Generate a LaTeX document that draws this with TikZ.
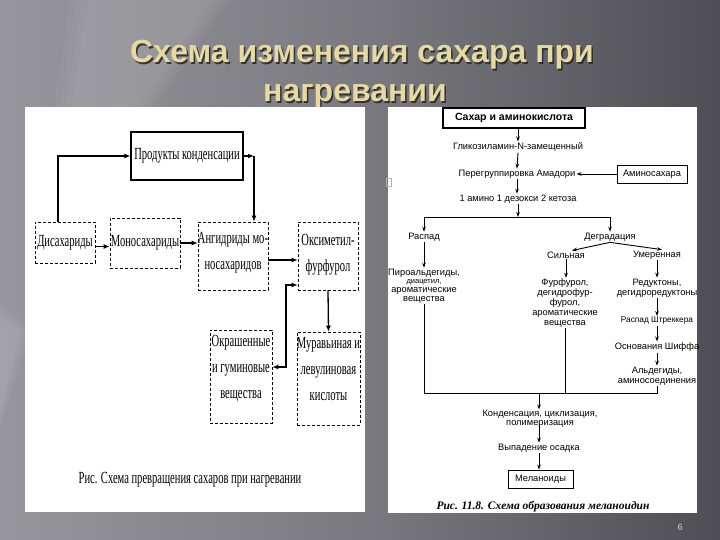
\documentclass[tikz,border=0pt]{standalone}
\usepackage{fontspec}
\setmainfont{Liberation Sans}
\newfontfamily\serc[FakeStretch=0.62]{Liberation Serif}
\newfontfamily\serbi{Liberation Serif}
\usetikzlibrary{arrows.meta}
\definecolor{bgL}{HTML}{96969C}
\definecolor{bgM}{HTML}{7A7A80}
\definecolor{bgR}{HTML}{4E4E54}
\definecolor{titlecol}{HTML}{E6D9A2}
\newcommand\myLfont{\serc\fontsize{17}{26}\selectfont}
\newcommand\myRfont{\fontsize{9.3}{10}\selectfont}
\begin{document}
\begin{tikzpicture}[x=1pt,y=-1pt,
  la/.style={line width=1.3pt,-{Latex[length=6pt,width=5pt]}},
  lboth/.style={line width=1.3pt,{Latex[length=6pt,width=5pt]}-{Latex[length=6pt,width=5pt]}},
  ra/.style={line width=0.9pt,-{Stealth[length=5pt,width=3.6pt]}},
  rl/.style={line width=0.9pt},
  lbox/.style={draw, densely dashed, line width=0.6pt, align=center, font=\myLfont, inner sep=1pt},
  ltext/.style={align=center, font=\myLfont, inner sep=1pt},
  rt/.style={align=center, font=\myRfont, inner sep=1pt},
  rbox/.style={draw, line width=0.8pt, align=center, font=\myRfont, inner sep=1pt},
  ttl/.style={font=\fontsize{32}{34}\selectfont\bfseries, anchor=base}]
\useasboundingbox (0,0) rectangle (720,540);
% background
\shade[left color=bgL, right color=bgR, middle color=bgM] (0,0) rectangle (720,540);
\foreach \d in {0,6,12,18} {
  \fill[white,opacity=0.035] (70+\d,0) -- (230-\d,0) -- (90-\d,200) -- (40+\d,200) -- cycle;
  \fill[white,opacity=0.035] (0,300+\d) -- (30-\d/2,330) -- (0,430-\d) -- cycle;
}
% title
\node[ttl,text=black!85,opacity=0.85] at (363.5,64.5) {Схема изменения сахара при};
\node[ttl,text=titlecol] (t1) at (362,63) {Схема изменения сахара при};
\node[ttl,text=black!85,opacity=0.85] at (356.5,103.5) {нагревании};
\node[ttl,text=titlecol] (t2) at (355,102) {нагревании};
% panels
\fill[white] (25,107) rectangle (365,512);
\fill[white] (388,107) rectangle (697,513);
\draw[gray!60,line width=0.6pt] (386,178) rectangle (391,186);
% ---------------- left diagram ----------------
\node[draw,line width=1.2pt,minimum width=112pt,minimum height=48pt,font=\myLfont,inner sep=1pt] (prod) at (187,156) {Продукты конденсации};
\node[lbox,minimum width=60pt,minimum height=41pt] (dis) at (65,242.5) {Дисахариды};
\node[lbox,minimum width=70pt,minimum height=50pt] (mono) at (145,243) {Моносахариды};
\node[lbox,minimum width=70pt,minimum height=68pt] (anh) at (233,256) {};
\node[ltext] (anhT) at (233,253) {Ангидриды мо-\\носахаридов};
\node[lbox,minimum width=60pt,minimum height=68pt] (oks) at (328,256) {};
\node[ltext] (oksT) at (328,255) {Оксиметил-\\фурфурол};
\node[lbox,minimum width=62pt,minimum height=93pt] (okr) at (241,376.5) {};
\node[ltext] (okrT) at (241,369) {Окрашенные\\и гуминовые\\вещества};
\node[lbox,minimum width=63pt,minimum height=93pt] (mur) at (328.5,378.5) {};
\node[ltext] (murT) at (328.5,369.5) {Муравьиная и\\левулиновая\\кислоты};
\coordinate (c1) at (254,156);
\coordinate (c2) at (286,367);
\coordinate (c3) at (286,285);
\draw[la] ([xshift=-7pt]dis.north) |- (prod.west);
\draw[la] (prod.east) -- (c1);
\draw[la] (c1) -- (c1 |- anh.north);
\draw[la] ([yshift=-4pt]dis.east) -- ([yshift=-4pt]dis.east -| mono.west);
\draw[la] (mono.east) -- (mono.east -| anh.west);
\draw[la] ([yshift=-4pt]anh.east) -- ([yshift=-4pt]anh.east -| oks.west);
\draw[lboth] (okr.east |- c2) -- (c2) -- (c3) -- (c3 -| oks.west);
\draw[la] (oks.south) -- (mur.north);
\node[font=\serc\fontsize{17}{19}\selectfont] (capl) at (190,480) {Рис. Схема превращения сахаров при нагревании};
% ---------------- right diagram ----------------
\node[draw,line width=1.8pt,minimum width=142pt,minimum height=20pt,font=\fontsize{10.5}{11}\selectfont\bfseries,inner sep=1pt] (sug) at (514,118) {Сахар и аминокислота};
\node[rt] (gly) at (518,147) {Гликозиламин-N-замещенный};
\node[rt] (amad) at (517,174) {Перегруппировка Амадори};
\node[rbox,minimum width=70pt,minimum height=18pt] (amsug) at (652,174) {Аминосахара};
\node[rt] (ket) at (518,199) {1 амино 1 дезокси 2 кетоза};
\coordinate (j1) at (518,217);
\coordinate (jl) at (424,217);
\coordinate (jr) at (610,217);
\node[rt] (rasp) at (424,237) {Распад};
\node[rt] (degr) at (610,237) {Деградация};
\node[rt] (sil) at (566,255) {Сильная};
\node[rt] (umer) at (657,255) {Умеренная};
\node[rt,font=\fontsize{9.3}{8.7}\selectfont] (piro) at (424,286) {Пироальдегиды,\\{\fontsize{7.5}{8.7}\selectfont диацетил,}\\ароматические\\вещества};
\node[rt,font=\fontsize{9.3}{9.8}\selectfont] (furf) at (565,303) {Фурфурол,\\дегидрофур-\\фурол,\\ароматические\\вещества};
\node[rt] (red) at (657,288) {Редуктоны,\\дегидроредуктоны};
\node[rt,font=\fontsize{8.3}{9}\selectfont] (shtr) at (657,321) {Распад Штреккера};
\node[rt] (schiff) at (657,347) {Основания Шиффа};
\node[rt] (ald) at (657,376) {Альдегиды,\\аминосоединения};
\coordinate (bl) at (424,393);
\coordinate (br) at (657,393);
\coordinate (bm) at (539,393);
\node[rt,font=\fontsize{9.3}{8.5}\selectfont] (kond) at (540,419) {Конденсация, циклизация,\\полимеризация};
\node[rt] (vyp) at (539,448) {Выпадение осадка};
\node[rbox,minimum width=65pt,minimum height=18pt] (mel) at (540.5,479) {Меланоиды};
\node[font=\serbi\fontsize{11.5}{12}\selectfont\bfseries\itshape] (capr) at (543,507) {Рис. 11.8. Схема образования меланоидин};
\draw[ra] ([xshift=4pt]sug.south) -- ([xshift=4pt]sug.south |- gly.north);
\draw[ra] (gly.south) -- (amad.north);
\draw[ra] (amsug.west) -- (amad.east);
\draw[ra] (amad.south) -- (amad.south |- ket.north);
\draw[ra] (ket.south) -- (j1);
\draw[rl] (jl) -- (jr);
\draw[ra] (jl) -- (rasp.north);
\draw[ra] (jr) -- (degr.north);
\draw[ra] (degr.south) -- ([xshift=6pt]sil.north);
\draw[ra] (degr.south) -- ([xshift=5pt]umer.north);
\draw[ra] (rasp.south) -- (piro.north);
\draw[ra] (sil.south) -- (sil.south |- furf.north);
\draw[ra] (umer.south) -- (red.north);
\draw[ra] (red.south) -- (shtr.north);
\draw[ra] (shtr.south) -- (schiff.north);
\draw[ra] (schiff.south) -- (ald.north);
\draw[rl] (piro.south) -- (bl) -- (br) -- (ald.south);
\draw[rl] (furf.south) -- (furf.south |- bl);
\draw[ra] (bm) -- (bm |- kond.north);
\draw[ra] ([yshift=4pt]kond.south -| bm) -- (bm |- vyp.north);
\draw[ra] (bm |- vyp.south) -- (bm |- mel.north);
% page number
\node[text=gray!35,font=\fontsize{9}{10}\selectfont] (pg) at (680,527) {6};
\end{tikzpicture}
\end{document}
